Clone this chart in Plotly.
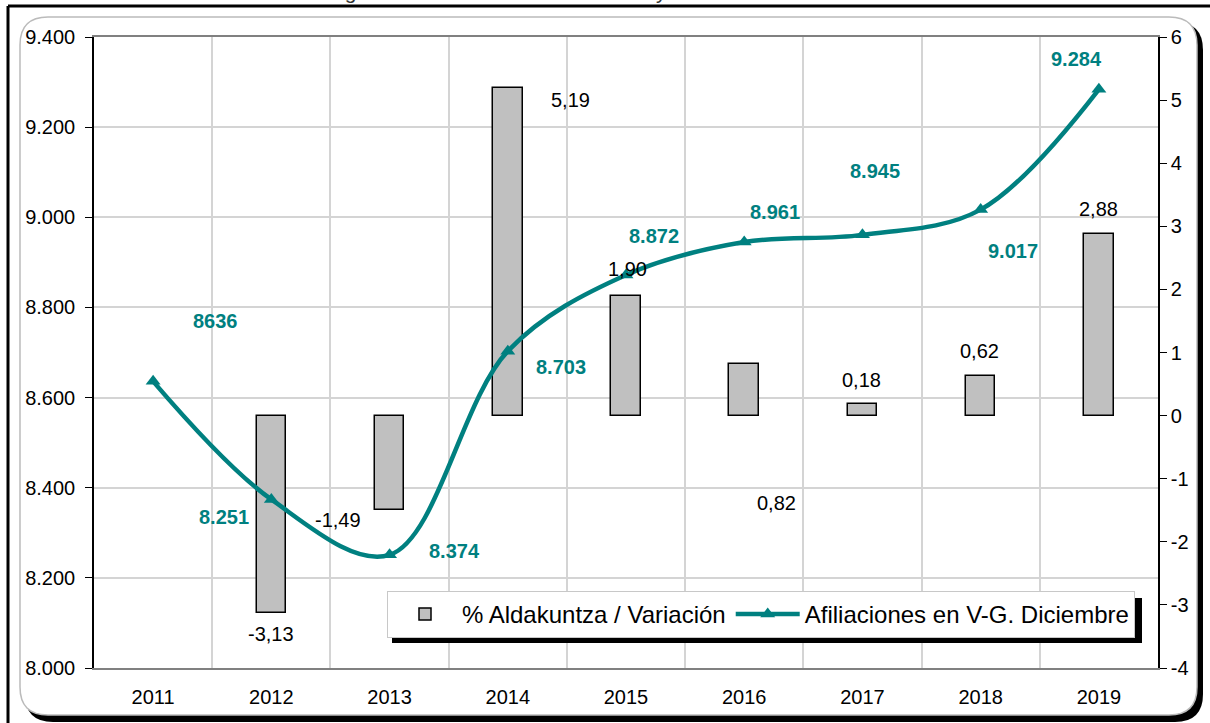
import plotly.graph_objects as go

# data
years = [2011, 2012, 2013, 2014, 2015, 2016, 2017, 2018, 2019]
afiliaciones = [8636, 8374, 8251, 8703, 8872, 8945, 8961, 9017, 9284]
variacion_years = [2012, 2013, 2014, 2015, 2016, 2017, 2018, 2019]
variacion = [-3.13, -1.49, 5.19, 1.90, 0.82, 0.18, 0.62, 2.88]

# labels as placed in the original (some are swapped there)
line_labels = ["8636", "8.251", "8.374", "8.703", "8.872", "8.961", "8.945", "9.017", "9.284"]
line_label_x = [2011.53, 2011.60, 2013.55, 2014.45, 2015.24, 2016.26, 2017.11, 2018.27, 2018.81]
line_label_y = [8771, 8334, 8259, 8667, 8959, 9012, 9103, 8926, 9351]
bar_labels = ["-3,13", "-1,49", "5,19", "1,90", "0,82", "0,18", "0,62", "2,88"]
bar_label_x = [2012.0, 2012.56, 2014.53, 2015.01, 2016.27, 2016.99, 2017.99, 2019.0]
bar_label_y = [-3.46, -1.66, 5.0, 2.33, -1.39, 0.57, 1.03, 3.28]

right_ticks = [-4, -3, -2, -1, 0, 1, 2, 3, 4, 5, 6]

TEAL = "#008080"
FONT = "Liberation Sans, Arial, sans-serif"

W, H = 1210, 723
L, R, T, B = 94, 1158, 37, 668


def px(p):
    return (p - L) / (R - L)


def py(p):
    return (B - p) / (B - T)


def rounded(x0, y0, x1, y1, r):
    pts = [
        ("M", x0 + r, y0), ("L", x1 - r, y0), ("Q", x1, y0, x1, y0 + r),
        ("L", x1, y1 - r), ("Q", x1, y1, x1 - r, y1), ("L", x0 + r, y1),
        ("Q", x0, y1, x0, y1 - r), ("L", x0, y0 + r), ("Q", x0, y0, x0 + r, y0),
    ]
    out = []
    for p in pts:
        if p[0] == "Q":
            out.append(f"Q{px(p[1]):.5f},{py(p[2]):.5f} {px(p[3]):.5f},{py(p[4]):.5f}")
        else:
            out.append(f"{p[0]}{px(p[1]):.5f},{py(p[2]):.5f}")
    return " ".join(out) + " Z"


fig = go.Figure()

fig.add_trace(go.Bar(
    x=variacion_years, y=variacion, width=0.25,
    marker=dict(color="#C0C0C0", line=dict(color="black", width=1.5)),
    name="% Aldakuntza / Variación", yaxis="y",
))
fig.add_trace(go.Scatter(
    x=years, y=afiliaciones, mode="lines+markers", yaxis="y2",
    line=dict(color=TEAL, width=4.5, shape="spline", smoothing=1.0),
    marker=dict(symbol="triangle-up", size=13, color=TEAL),
    name="Afiliaciones en V-G. Diciembre",
))

for t, x, y in zip(line_labels, line_label_x, line_label_y):
    fig.add_annotation(x=x, y=y, xref="x", yref="y2", text=t, showarrow=False,
                       font=dict(family=FONT, size=20, color=TEAL, weight="bold"))
for t, x, y in zip(bar_labels, bar_label_x, bar_label_y):
    fig.add_annotation(x=x, y=y, xref="x", yref="y", text=t, showarrow=False,
                       font=dict(family=FONT, size=20, color="black"))

# title, cut off by the top of the image as in the original
fig.add_annotation(xref="paper", yref="paper", x=px(10), y=py(-9), xanchor="left", yanchor="middle",
                   text="Gráfico 1. Afiliación en Alta en la Seguridad Social en Vitoria-Gasteiz y tasa de variación interanual",
                   showarrow=False, font=dict(family=FONT, size=21, color="#333333"))

shapes = [
    # frame shadow and rounded box
    dict(type="path", path=rounded(25, 22, 1203, 722, 28), xref="paper", yref="paper",
         fillcolor="black", line=dict(width=0), layer="below"),
    dict(type="path", path=rounded(20, 17, 1197, 715, 28), xref="paper", yref="paper",
         fillcolor="white", line=dict(color="#BBBBBB", width=1.5), layer="below"),
    dict(type="line", xref="paper", yref="paper", x0=px(8), x1=px(1215), y0=py(6), y1=py(6),
         line=dict(color="black", width=3)),
    dict(type="line", xref="paper", yref="paper", x0=px(8), x1=px(8), y0=py(6), y1=py(730),
         line=dict(color="black", width=3)),
    # legend shadow
    dict(type="rect", xref="paper", yref="paper", x0=px(392), x1=px(1142), y0=py(598), y1=py(643),
         fillcolor="black", line=dict(width=0)),
]

fig.update_layout(
    width=W, height=H,
    margin=dict(l=L, r=W - R, t=T, b=H - B),
    paper_bgcolor="white", plot_bgcolor="rgba(0,0,0,0)",
    separators=",.",
    font=dict(family=FONT, size=20, color="black"),
    showlegend=True,
    legend=dict(orientation="h", x=px(387), y=py(591), xanchor="left", yanchor="top",
                bgcolor="white", bordercolor="#C8C8C8", borderwidth=1,
                font=dict(family=FONT, size=24), itemwidth=64, tracegroupgap=0),
    xaxis=dict(range=[2010.5, 2019.5], tickvals=years, ticktext=[str(y) for y in years],
               showgrid=False, showline=True, linecolor="#808080", linewidth=2, mirror=True,
               ticks="", tickfont=dict(size=20), ticklabelstandoff=10,
               minor=dict(tick0=2011.5, dtick=1, showgrid=True, gridcolor="#D4D4D4", gridwidth=1.5, ticks="")),
    yaxis=dict(range=[-4, 6], tickvals=right_ticks, ticktext=[str(v) for v in right_ticks],
               side="right", showgrid=False, zeroline=False, showline=True, linecolor="black",
               linewidth=1.5, ticks="outside", ticklen=7, tickcolor="black", tickfont=dict(size=20)),
    yaxis2=dict(range=[8000, 9400], dtick=200, tickformat=",d", overlaying="y", side="left",
                showgrid=True, gridcolor="#D4D4D4", gridwidth=1.5, zeroline=False,
                showline=True, linecolor="black", linewidth=1.5, ticks="outside", ticklen=7,
                tickcolor="black", tickfont=dict(size=20), ticklabelstandoff=6),
    shapes=shapes,
    bargap=0,
)

fig.write_html("out.html", config={"displayModeBar": False},
               post_script="document.body.style.margin='0';")
